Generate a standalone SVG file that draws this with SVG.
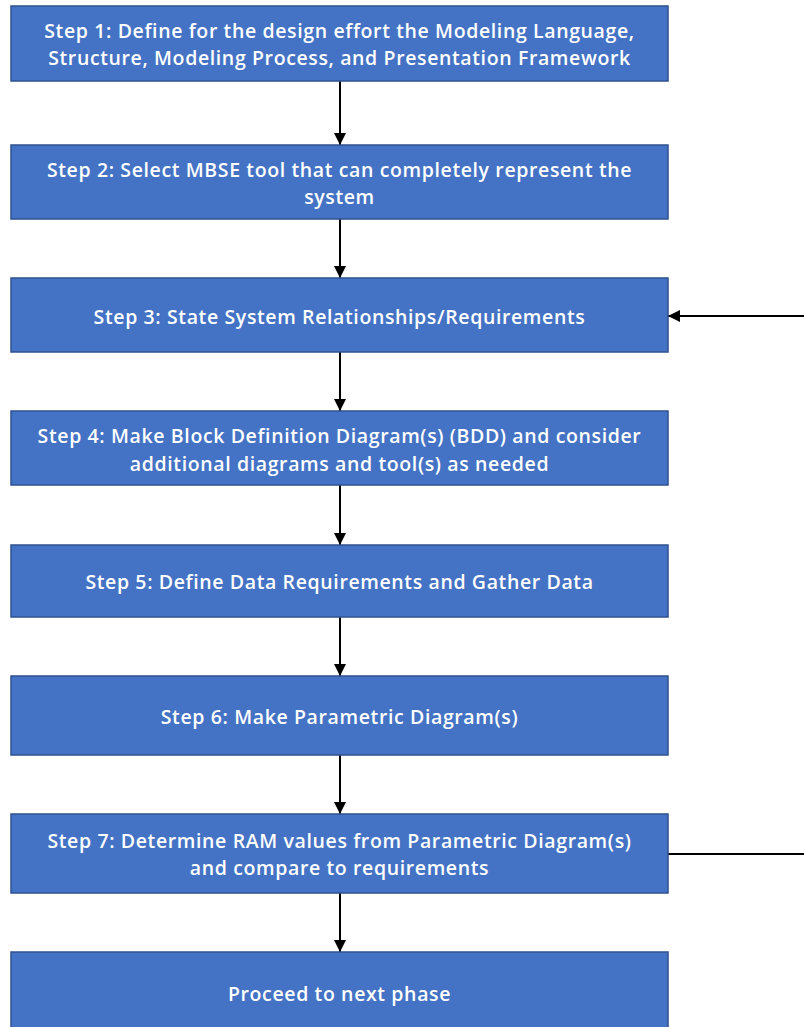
<svg xmlns="http://www.w3.org/2000/svg" width="804" height="1027" viewBox="0 0 804 1027">
<defs>
<style>
.box{fill:#4472C4;stroke:#2F528F;stroke-width:1.5}
.t{font-family:"Open Sans","Liberation Sans",sans-serif;font-weight:600;font-size:19.5px;letter-spacing:0.62px;fill:#fff;text-anchor:middle}
.c{stroke:#000;stroke-width:2;fill:none}
</style>
<marker id="ah" viewBox="0 0 10 10" refX="10" refY="5" markerWidth="6" markerHeight="6" orient="auto" markerUnits="strokeWidth">
<path d="M0,0 L10,5 L0,10 z" fill="#000"/>
</marker>
</defs>
<rect width="804" height="1027" fill="#fff"/>
<g id="connectors">
<line class="c" x1="340" y1="81" x2="340" y2="145" marker-end="url(#ah)"/>
<line class="c" x1="340" y1="219" x2="340" y2="278" marker-end="url(#ah)"/>
<line class="c" x1="340" y1="352" x2="340" y2="411" marker-end="url(#ah)"/>
<line class="c" x1="340" y1="485" x2="340" y2="545" marker-end="url(#ah)"/>
<line class="c" x1="340" y1="617" x2="340" y2="676" marker-end="url(#ah)"/>
<line class="c" x1="340" y1="755" x2="340" y2="814" marker-end="url(#ah)"/>
<line class="c" x1="340" y1="893" x2="340" y2="952" marker-end="url(#ah)"/>
<line class="c" x1="804" y1="316" x2="668" y2="316" marker-end="url(#ah)"/>
<line class="c" x1="668" y1="854" x2="804" y2="854"/>
</g>
<g id="step1">
<rect class="box" x="11" y="6" width="657" height="75"/>
<text class="t" x="339.5" y="38">Step 1: Define for the design effort the Modeling Language,</text>
<text class="t" x="339.5" y="65">Structure, Modeling Process, and Presentation Framework</text>
</g>
<g id="step2">
<rect class="box" x="11" y="145" width="657" height="74"/>
<text class="t" x="339.5" y="177">Step 2: Select MBSE tool that can completely represent the</text>
<text class="t" x="339.5" y="204">system</text>
</g>
<g id="step3">
<rect class="box" x="11" y="278" width="657" height="74"/>
<text class="t" x="339.5" y="324">Step 3: State System Relationships/Requirements</text>
</g>
<g id="step4">
<rect class="box" x="11" y="411" width="657" height="74"/>
<text class="t" x="339.5" y="443">Step 4: Make Block Definition Diagram(s) (BDD) and consider</text>
<text class="t" x="339.5" y="471">additional diagrams and tool(s) as needed</text>
</g>
<g id="step5">
<rect class="box" x="11" y="545" width="657" height="72"/>
<text class="t" x="339.5" y="589">Step 5: Define Data Requirements and Gather Data</text>
</g>
<g id="step6">
<rect class="box" x="11" y="676" width="657" height="79"/>
<text class="t" x="339.5" y="724">Step 6: Make Parametric Diagram(s)</text>
</g>
<g id="step7">
<rect class="box" x="11" y="814" width="657" height="79"/>
<text class="t" x="339.5" y="848">Step 7: Determine RAM values from Parametric Diagram(s)</text>
<text class="t" x="339.5" y="875">and compare to requirements</text>
</g>
<g id="step8">
<rect class="box" x="11" y="952" width="657" height="80"/>
<text class="t" x="339.5" y="1001">Proceed to next phase</text>
</g>
</svg>
